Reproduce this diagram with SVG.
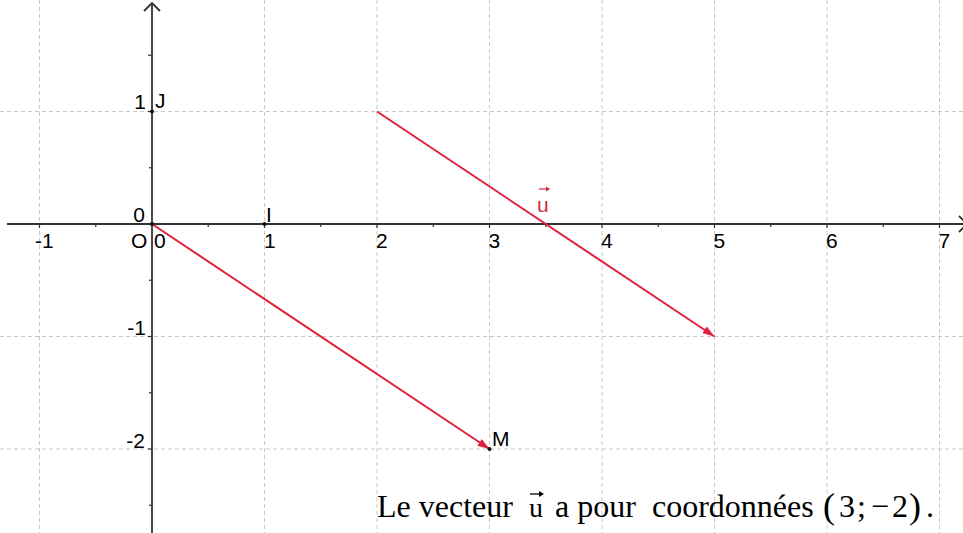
<svg xmlns="http://www.w3.org/2000/svg" width="963" height="533" viewBox="0 0 963 533">
<style>
.grid{stroke:#c8c8c8;stroke-width:1;stroke-dasharray:4 3;fill:none}
.axis{stroke:#333;stroke-width:1.8;fill:none}
.tick{stroke:#333;stroke-width:1.2}
.lbl{font-family:"Liberation Sans",Arial,sans-serif;font-size:21px;fill:#000}
.vec{stroke:#e0203c;stroke-width:2;fill:none;marker-end:url(#ah)}
.pt{fill:#111}
.tx{font-family:"Liberation Serif","Times New Roman",serif;font-size:32px;fill:#000}
</style>
<defs>
<marker id="ah" viewBox="0 0 12 8" refX="12" refY="4" markerWidth="12" markerHeight="8" markerUnits="userSpaceOnUse" orient="auto">
<path d="M0,0 L12,4 L0,8 Z" fill="#e0203c"/>
</marker>
</defs>
<rect width="963" height="533" fill="#fff"/>
<g id="grid">
<line class="grid" x1="39.5" y1="0" x2="39.5" y2="533"/>
<line class="grid" x1="264.5" y1="0" x2="264.5" y2="533"/>
<line class="grid" x1="377" y1="0" x2="377" y2="533"/>
<line class="grid" x1="489.5" y1="0" x2="489.5" y2="533"/>
<line class="grid" x1="602" y1="0" x2="602" y2="533"/>
<line class="grid" x1="714.5" y1="0" x2="714.5" y2="533"/>
<line class="grid" x1="827" y1="0" x2="827" y2="533"/>
<line class="grid" x1="939.5" y1="0" x2="939.5" y2="533"/>
<line class="grid" x1="0" y1="111.5" x2="963" y2="111.5"/>
<line class="grid" x1="0" y1="336.5" x2="963" y2="336.5"/>
<line class="grid" x1="0" y1="449" x2="963" y2="449"/>
</g>
<g id="axes">
<line class="axis" x1="7" y1="224" x2="966" y2="224"/>
<polyline class="axis" points="959,216 967,224 959,232"/>
<line class="axis" x1="152" y1="533" x2="152" y2="4"/>
<polyline class="axis" points="144,11 152,3 160,11"/>
<g class="tick">
<line x1="39.5" y1="224" x2="39.5" y2="228"/><line x1="95.75" y1="224" x2="95.75" y2="227"/>
<line x1="208.25" y1="224" x2="208.25" y2="227"/><line x1="264.5" y1="224" x2="264.5" y2="228"/>
<line x1="320.75" y1="224" x2="320.75" y2="227"/><line x1="377" y1="224" x2="377" y2="228"/>
<line x1="433.25" y1="224" x2="433.25" y2="227"/><line x1="489.5" y1="224" x2="489.5" y2="228"/>
<line x1="545.75" y1="224" x2="545.75" y2="227"/><line x1="602" y1="224" x2="602" y2="228"/>
<line x1="658.25" y1="224" x2="658.25" y2="227"/><line x1="714.5" y1="224" x2="714.5" y2="228"/>
<line x1="770.75" y1="224" x2="770.75" y2="227"/><line x1="827" y1="224" x2="827" y2="228"/>
<line x1="883.25" y1="224" x2="883.25" y2="227"/><line x1="939.5" y1="224" x2="939.5" y2="228"/>
<line x1="148" y1="55.25" x2="152" y2="55.25"/><line x1="148" y1="111.5" x2="152" y2="111.5"/>
<line x1="149" y1="167.75" x2="152" y2="167.75"/><line x1="149" y1="280.25" x2="152" y2="280.25"/>
<line x1="148" y1="336.5" x2="152" y2="336.5"/><line x1="149" y1="392.75" x2="152" y2="392.75"/>
<line x1="148" y1="449" x2="152" y2="449"/><line x1="149" y1="505.25" x2="152" y2="505.25"/>
</g>
<g class="lbl">
<text x="35" y="248">-1</text>
<text x="154" y="248">0</text>
<text x="264" y="248">1</text>
<text x="376" y="248">2</text>
<text x="488.5" y="248">3</text>
<text x="601" y="248">4</text>
<text x="713.5" y="248">5</text>
<text x="826" y="248">6</text>
<text x="938.5" y="248">7</text>
<text x="146" y="109" text-anchor="end">1</text>
<text x="145" y="222" text-anchor="end">0</text>
<text x="146" y="335" text-anchor="end">-1</text>
<text x="145" y="448" text-anchor="end">-2</text>
</g>
</g>
<g id="connectors">
<line id="vecOM" class="vec" x1="152" y1="224" x2="489.5" y2="449"/>
<line id="vecU" class="vec" x1="377" y1="111.5" x2="714.5" y2="336.5"/>
</g>
<g id="O"><circle class="pt" cx="152" cy="224" r="2"/><text class="lbl" x="131" y="248">O</text></g>
<g id="I"><circle class="pt" cx="264.5" cy="224" r="2"/><text class="lbl" x="266" y="222">I</text></g>
<g id="J"><circle class="pt" cx="152" cy="111.5" r="2"/><text class="lbl" x="155" y="108">J</text></g>
<g id="M"><circle class="pt" cx="489.5" cy="449" r="2"/><text class="lbl" x="492" y="446">M</text></g>
<g id="u-label">
<text x="537" y="212" font-family="Liberation Sans,Arial,sans-serif" font-size="21" fill="#cc3040">u</text>
<line x1="539" y1="189" x2="549" y2="189" stroke="#cc3040" stroke-width="1.2"/>
<path d="M546,186.5 L550,189 L546,191.5 Z" fill="#cc3040"/>
</g>
<g id="caption" class="tx">
<text x="377" y="517">Le vecteur</text>
<text x="529" y="517" font-size="28">u</text>
<line x1="530" y1="494" x2="542" y2="494" stroke="#000" stroke-width="1.3"/>
<path d="M539,491 L544,494 L539,497 Z" fill="#000"/>
<text x="555" y="517">a pour</text>
<text x="652" y="517">coordonnées</text>
<text x="823" y="518" font-size="36">(</text>
<text x="839" y="517">3</text>
<text x="857" y="517">;</text>
<text x="871" y="517">−</text>
<text x="892" y="517">2</text>
<text x="909" y="518" font-size="36">)</text>
<text x="926" y="517">.</text>
</g>
</svg>
